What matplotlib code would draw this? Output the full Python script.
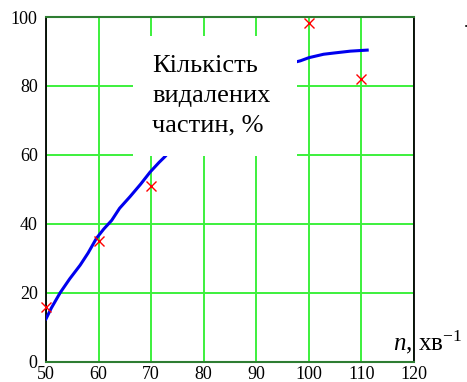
import matplotlib
matplotlib.use("Agg")
import matplotlib.pyplot as plt
from matplotlib.patches import Rectangle

plt.rcParams['font.family'] = ['Liberation Serif', 'DejaVu Serif']
plt.rcParams['mathtext.fontset'] = 'custom'
plt.rcParams['mathtext.it'] = 'Liberation Serif:italic'
plt.rcParams['mathtext.rm'] = 'Liberation Serif'

# fitted curve
curve_x = [50, 51, 52.7, 54.5, 56.5, 58, 59.6, 61, 62.5, 64, 66, 68, 69.8, 71.5, 72.7,
           75, 80, 85, 90, 95, 98.4, 100, 102.8, 105, 107.9, 110, 111.1]
curve_y = [12.4, 15.5, 20, 24, 28, 31.5, 35.8, 38.5, 41, 44.5, 47.9, 51.5, 55, 57.8, 59.6,
           64, 72, 78.5, 83, 86, 87.3, 88.2, 89.2, 89.6, 90.1, 90.3, 90.4]

# measured points
meas_x = [50, 60, 70, 100, 110]
meas_y = [15.8, 34.9, 51.1, 98.3, 82]

xticks = [50, 60, 70, 80, 90, 100, 110, 120]
yticks = [0, 20, 40, 60, 80, 100]

fig = plt.figure(figsize=(4.67, 3.82), dpi=100)
ax = fig.add_axes([0.0985, 0.0534, 0.788, 0.902])

ax.set_xlim(50, 120)
ax.set_ylim(0, 100)
ax.set_xticks(xticks)
ax.set_yticks(yticks)
ax.grid(True, color='#3cf03c', lw=1.4)
ax.tick_params(length=0, labelsize=13)
ax.tick_params(axis='y', pad=6)
ax.tick_params(axis='x', pad=3.5)

ax.plot(curve_x, curve_y, color='#0000ee', lw=2.2, zorder=3)
ax.plot(meas_x, meas_y, 'x', color='red', ms=7, mew=1, zorder=4, clip_on=False)

for s in ['left', 'right']:
    ax.spines[s].set_color('black')
    ax.spines[s].set_linewidth(1.3)
for s in ['top', 'bottom']:
    ax.spines[s].set_color('#2e7d32')
    ax.spines[s].set_linewidth(1.5)

# white label panel over the plot
ax.add_patch(Rectangle((66.6, 59.6), 31.2, 34.9, facecolor='white', edgecolor='none', zorder=5))
ax.text(70.2, 88.9, 'Кількість\nвидалених\nчастин, %', fontsize=19, ha='left', va='top',
        linespacing=1.46, zorder=6)

ax.text(116.1, 3.2, r'$n$, хв$^{-1}$', fontsize=18, ha='left', va='baseline',
        clip_on=False, zorder=6)

fig.text(0.997, 0.929, '.', fontsize=12, ha='center', va='baseline')

fig.savefig('out.png', dpi=100)
